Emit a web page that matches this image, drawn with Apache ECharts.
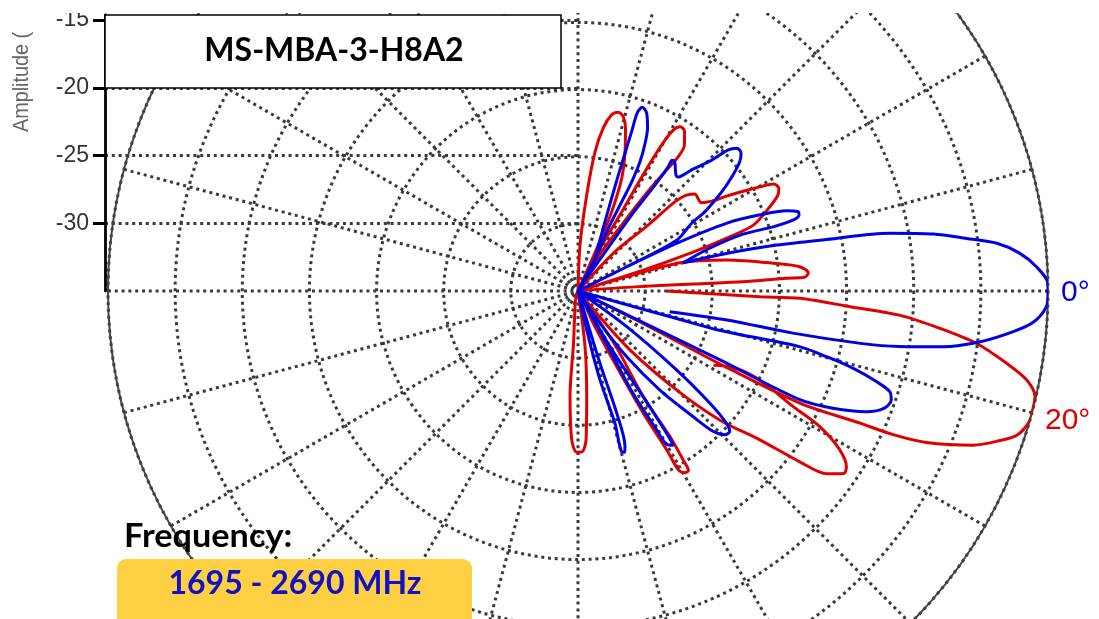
<!DOCTYPE html>
<html>
<head>
<meta charset="utf-8">
<script src="https://cdn.jsdelivr.net/npm/echarts@6/dist/echarts.min.js"></script>
<style>html,body{margin:0;padding:0;background:#fff;}#c{width:1099px;height:619px;}</style>
</head>
<body>
<div id="c"></div>
<script>
// ---- data (angle in degrees, positive = below horizon; level in dB) ----
const ampTicks = [-30, -25, -20, -15];
const blueAngle = [
  -59.5,-68.7,-70.8,-71.4,-71.6,-70.7,-68.9,-66.9,-65.5,-64.4,-63.8,-63.9,-64.2,-62.7,-60,
  -55.3,-54.8,-54.0,-54.0,-54.25,-53.1,-49.8,-48.7,-46.8,-44.4,-43.2,-42.0,-40.2,-38.6,-36.8,-34.6,-32.0,-30.8,-27.3,-26.5,-26,
  -26.5,-25.8,-24.5,-22.7,-21.0,-19.9,-18.95,-18.25,-18.2,-19.0,-18.0,-15.0,
  -14.2,-13.0,-11.7,-10.5,-9.1,-7.7,-6.5,-4.9,-3.0,-0.9,0.3,1.9,3.9,5.3,7.2,8.7,9.8,10.5,11.1,11.0,12.7,
  null,
  15.6,15.6,15.5,14.1,14.8,15.7,16.9,17.9,19.2,21.0,22.7,24.7,26.1,25.9,25.9,26,
  36.2,38.7,40.4,41.7,42.8,44.4,46.1,47.5,50.4,53.5,55.7,56,
  60.1,58.3,58.1,58.25,59.6,60.5,61.8,61.5,60,
  73.1,72.4,73.2,73.8,74.8,74.4,76.1,77.4,77
];
const blueDb = [
  -32.75,-29.5,-25.9,-22.5,-21.0,-20.5,-20.8,-21.8,-23.0,-24.3,-25.9,-27.6,-29.8,-31.7,-35,
  -32.3,-28.1,-25.25,-23.6,-23.0,-23.0,-23.7,-23.7,-22.6,-21.1,-19.65,-19.1,-19.1,-19.6,-20.6,-22.0,-23.85,-25.15,-26.7,-30.95,-35,
  -30.95,-26.8,-22.8,-20.3,-18.35,-17.6,-17.6,-18.1,-19.7,-22.0,-24.7,-26.9,
  -23.6,-19.8,-16.1,-11.4,-8.2,-5.8,-3.6,-2.0,-0.8,0,0,-0.1,-1.0,-2.4,-4.8,-7.5,-10.7,-13.6,-18.7,-23.7,-28.0,
  null,
  -35,-27.1,-24.0,-18.0,-15.85,-13.7,-11.75,-10.6,-10.3,-10.6,-11.7,-14.1,-16.6,-23.2,-29.0,-35,
  -30.5,-25.6,-22.1,-20.2,-19.6,-19.7,-20.5,-22.3,-25.4,-28.9,-32.1,-35,
  -30.2,-25.75,-22.5,-21.5,-21.7,-23.3,-26.55,-30.8,-35,
  -29.4,-25.45,-22.9,-22.5,-22.6,-24.8,-28.2,-32.0,-35
];
const redAngle = [
  -88,-87.5,-84.8,-83.0,-81.2,-79.2,-77.3,-75.4,-73.7,-71.35,-68.8,-67.0,-66.2,-66,
  -62.7,-61.1,-60.7,-60.2,-59.4,-58.1,-56.3,-53.9,-53.25,-53.9,-55.1,-56.5,-58.9,-55,
  -46.7,-43.2,-42.6,-41.2,-39.7,-35.6,-33.9,-32.7,-31.2,-29.8,-28.7,-27.1,-25.6,-23.7,-20.6,-19.6,-18.7,-17.8,-17,
  -16.4,-15.5,-11.8,-7.9,-6.25,-4.5,-3.45,-3.5,-3.2,-3.5,-4.3,-4,
  null,
  0,1.8,1.9,3.3,4.3,5.9,7.5,9.6,11.2,13.0,14.6,16.1,18.2,19.5,21.3,23.5,24.5,25.1,26.8,27.2,26.6,27,
  null,
  28.7,26.2,26.1,28.25,29.3,31.25,33.25,34.5,36.3,37.6,39.3,42.3,45.1,48.8,48,
  55.6,58.3,57.7,58.1,58.4,59.5,60.7,60.8,61.9,62.9,64.7,64,
  94.8,94.3,92.4,90.5,88.7,86.9,85.3,82.8,85
];
const redDb = [
  -35,-31.6,-27.8,-24.55,-22.7,-21.65,-21.35,-21.6,-22.4,-24.05,-26.0,-28.6,-31.3,-35,
  -31.7,-28.3,-24.8,-22.5,-21.1,-20.6,-20.7,-21.55,-22.5,-24.0,-26.3,-29.1,-31.6,-35,
  -31.0,-27.8,-25.2,-24.1,-23.7,-23.7,-23.0,-22.0,-20.7,-19.4,-18.4,-18.2,-18.5,-19.4,-21.05,-23.2,-25.9,-29.9,-35,
  -31.2,-27.1,-23.7,-20.1,-18.4,-17.8,-18.1,-19.4,-22.7,-26.4,-31.4,-35,
  null,
  -28.4,-21.45,-18.5,-14.7,-11.0,-7.9,-5.05,-2.6,-0.95,-0.07,0,0,-0.6,-1.65,-3.4,-6.7,-9.2,-11.8,-16.5,-23.1,-29.0,-35,
  null,
  -23.5,-22.1,-19.9,-16.8,-14.35,-12.2,-11.1,-11.0,-12.0,-14.15,-17.5,-20.7,-24.6,-29.5,-35,
  -30.1,-25.75,-22.2,-20.2,-19.3,-19.3,-19.7,-21.4,-24.7,-28.7,-32.3,-35,
  -30.8,-27.1,-23.9,-23.0,-23.0,-23.9,-27.1,-30.8,-35
];

function toPolar(angles, levels) {
  return angles.map((a, i) => (a === null ? ['-', '-'] : [levels[i], a]));
}

const gridDot = { color: '#3a3a3a', width: 3, type: [3, 3.8], cap: 'butt' };
const chart = echarts.init(document.getElementById('c'), null, { renderer: 'canvas' });
chart.setOption({
  animation: false,
  backgroundColor: '#fff',
  polar: { center: [578, 291], radius: 470 },
  angleAxis: {
    type: 'value', min: -180, max: 180, interval: 15, startAngle: 180, clockwise: true,
    axisLine: { show: true, lineStyle: { color: '#444', width: 2 } },
    axisTick: { show: false }, axisLabel: { show: false },
    splitLine: { show: true, lineStyle: gridDot }
  },
  radiusAxis: {
    type: 'value', min: -35, max: 0, interval: 5,
    axisLine: { show: false }, axisTick: { show: false }, axisLabel: { show: false },
    splitLine: { show: true, lineStyle: gridDot }
  },
  grid: { left: 105, top: 15, width: 473, height: 276 },
  xAxis: { type: 'value', show: false, min: 0, max: 1 },
  yAxis: {
    type: 'value', min: -35, max: -14.63, interval: 5,
    axisLine: { show: true, lineStyle: { color: '#000', width: 2.8 } },
    axisTick: { show: true, length: 12, customValues: ampTicks, lineStyle: { color: '#000', width: 3 } },
    axisLabel: { customValues: ampTicks, margin: 16, fontSize: 23, color: '#333', fontFamily: 'Liberation Sans' },
    splitLine: { show: true, lineStyle: gridDot }
  },
  series: [
    { type: 'line', coordinateSystem: 'polar', data: toPolar(redAngle, redDb), showSymbol: false, smooth: 0.3,
      connectNulls: false, lineStyle: { color: '#e00000', width: 3 }, z: 3 },
    { type: 'line', coordinateSystem: 'polar', data: toPolar(blueAngle, blueDb), showSymbol: false, smooth: 0.3,
      connectNulls: false, lineStyle: { color: '#0000e6', width: 3 }, z: 4 }
  ],
  graphic: [
    { type: 'rect', z: 100, shape: { x: 0, y: 0, width: 1099, height: 13 }, style: { fill: '#fff' } },
    { type: 'rect', z: 101, shape: { x: 105, y: 15, width: 456, height: 73 }, style: { fill: '#fff', stroke: '#000', lineWidth: 1.5 } },
    { type: 'text', z: 102, x: 334, y: 51, style: { text: 'MS-MBA-3-H8A2', font: 'bold 32px Lato', fill: '#000', textAlign: 'center', textVerticalAlign: 'middle' } },
    { type: 'text', z: 102, x: 22, y: 82, rotation: Math.PI / 2, scaleX: 0.9, style: { text: 'Amplitude (', font: '22px "Liberation Sans"', fill: '#666', textAlign: 'center', textVerticalAlign: 'middle' } },
    { type: 'text', z: 102, x: 124, y: 537, scaleX: 1.07, style: { text: 'Frequency:', font: 'bold 32px Lato', fill: '#000', textAlign: 'left', textVerticalAlign: 'middle' } },
    { type: 'rect', z: 101, shape: { x: 117, y: 559, width: 355, height: 80, r: 9 }, style: { fill: '#ffd044' } },
    { type: 'text', z: 102, x: 295, y: 584, style: { text: '1695 - 2690 MHz', font: 'bold 32px Lato', fill: '#1212c4', textAlign: 'center', textVerticalAlign: 'middle' } },
    { type: 'text', z: 102, x: 1061, y: 293, style: { text: '0°', font: '30px "Liberation Sans"', fill: '#0000e0', textAlign: 'left', textVerticalAlign: 'middle' } },
    { type: 'text', z: 102, x: 1045, y: 421, style: { text: '20°', font: '30px "Liberation Sans"', fill: '#e00000', textAlign: 'left', textVerticalAlign: 'middle' } }
  ]
});
</script>
</body>
</html>
